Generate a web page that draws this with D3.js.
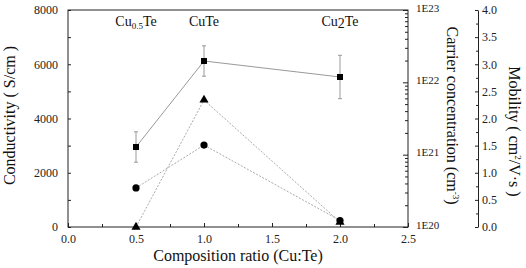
<!DOCTYPE html>
<html>
<head>
<meta charset="utf-8">
<script src="https://cdn.jsdelivr.net/npm/d3@7"></script>
<style>
  body { margin: 0; background: #fff; }
  .axis path, .axis line { stroke: #222; }
  .axis text { fill: #222; }
</style>
</head>
<body>
<svg width="526" height="268" font-family="Liberation Serif"></svg>
<script>
const ratio = [0.5, 1.0, 2.0];
const conductivity = [2950, 6120, 5530];
const condErr = [560, 560, 800];
const carrier = [1e20, 5.7e21, 1.17e20];
const mobility = [0.72, 1.51, 0.12];
const phases = [
  { x: 0.5, main: "Cu", sub: "0.5", tail: "Te" },
  { x: 1.0, main: "CuTe", sub: "", tail: "" },
  { x: 2.0, main: "Cu", sub: "2", tail: "Te", big: true }
];

const FONT = "Liberation Serif";
const svg = d3.select("svg"),
      margin = { top: 10, right: 118, bottom: 41, left: 68 },
      width = +svg.attr("width") - margin.left - margin.right,
      height = +svg.attr("height") - margin.top - margin.bottom;

const g = svg.append("g").attr("transform", `translate(${margin.left},${margin.top})`);

const x = d3.scaleLinear().domain([0, 2.5]).range([0, width]);
const yC = d3.scaleLinear().domain([0, 8000]).range([height, 0]);
const yN = d3.scaleLog().domain([1e20, 1e23]).range([height, 0]);
const yM = d3.scaleLinear().domain([0, 4]).range([height, 0]);

// frame
g.append("rect").attr("width", width).attr("height", height)
  .attr("fill", "none").attr("stroke", "#222");

// x axis
g.append("g").attr("class", "axis").attr("transform", `translate(0,${height})`)
  .call(d3.axisBottom(x).tickValues(d3.range(0, 2.51, 0.25)).tickSize(-4).tickPadding(7)
    .tickFormat(d => (Math.round(d * 100) % 50 === 0) ? d3.format(".1f")(d) : ""))
  .call(a => a.selectAll(".tick line").attr("y2", (d) => (Math.round(d * 100) % 50 === 0) ? -4 : -3))
  .call(a => a.select(".domain").remove())
  .attr("font-family", FONT).attr("font-size", 12);

// left axis
g.append("g").attr("class", "axis")
  .call(d3.axisLeft(yC).tickValues(d3.range(0, 8001, 1000)).tickSize(-3).tickPadding(10)
    .tickFormat(d => d % 2000 === 0 ? d : ""))
  .call(a => a.select(".domain").remove())
  .attr("font-family", FONT).attr("font-size", 12);

// right log axis
const logTicks = [];
for (let e = 20; e < 23; e++) for (let m = 1; m < 10; m++) logTicks.push(m * Math.pow(10, e));
logTicks.push(1e23);
const isDecade = d => { const e = Math.log10(d); return Math.abs(e - Math.round(e)) < 1e-9; };
g.append("g").attr("class", "axis").attr("transform", `translate(${width},0)`)
  .call(d3.axisRight(yN).tickValues(logTicks).tickSize(-3).tickPadding(8)
    .tickFormat(d => isDecade(d) ? "1E" + Math.round(Math.log10(d)) : ""))
  .call(a => a.selectAll(".tick line").attr("x2", d => isDecade(d) ? -5 : -3))
  .call(a => a.selectAll(".tick text").attr("dy", "0.1em"))
  .call(a => a.select(".domain").remove())
  .attr("font-family", FONT).attr("font-size", 11);

// mobility axis
const isHalf = d => Math.abs(d * 2 - Math.round(d * 2)) < 1e-9;
g.append("g").attr("class", "axis").attr("transform", `translate(${width + 70},0)`)
  .call(d3.axisRight(yM).tickValues(d3.range(0, 4.01, 0.25)).tickSize(-3).tickPadding(4).tickSizeOuter(0)
    .tickFormat(d => isHalf(d) ? d3.format(".1f")(d) : ""))
  .call(a => a.selectAll(".tick line").attr("x2", d => isHalf(d) ? -3 : -2))
  .attr("font-family", FONT).attr("font-size", 12);

// lines
const pts = (vals, sc) => ratio.map((r, i) => [x(r), sc(vals[i])]);
const line = d3.line();
g.append("path").attr("d", line(pts(conductivity, yC)))
  .attr("fill", "none").attr("stroke", "#999").attr("stroke-width", 1);
g.append("path").attr("d", line(pts(carrier, yN)))
  .attr("fill", "none").attr("stroke", "#aaa").attr("stroke-width", 1).attr("stroke-dasharray", "2,1.5");
g.append("path").attr("d", line(pts(mobility, yM)))
  .attr("fill", "none").attr("stroke", "#aaa").attr("stroke-width", 1).attr("stroke-dasharray", "2,1.5");

// error bars
ratio.forEach((r, i) => {
  const cx = x(r), t = yC(conductivity[i] + condErr[i]), b = yC(conductivity[i] - condErr[i]);
  const eb = g.append("g").attr("stroke", "#999").attr("stroke-width", 1);
  eb.append("line").attr("x1", cx).attr("x2", cx).attr("y1", t).attr("y2", b);
  eb.append("line").attr("x1", cx - 2).attr("x2", cx + 2).attr("y1", t).attr("y2", t);
  eb.append("line").attr("x1", cx - 2).attr("x2", cx + 2).attr("y1", b).attr("y2", b);
});

// markers
g.selectAll(".tri").data(ratio).enter().append("path")
  .attr("transform", (d, i) => `translate(${x(d)},${yN(carrier[i])})`)
  .attr("d", d3.symbol(d3.symbolTriangle, 36)).attr("fill", "#000");
g.selectAll(".dot").data(ratio).enter().append("circle")
  .attr("cx", d => x(d)).attr("cy", (d, i) => yM(mobility[i])).attr("r", 3.6).attr("fill", "#000");
g.selectAll(".sq").data(ratio).enter().append("rect")
  .attr("x", d => x(d) - 3).attr("y", (d, i) => yC(conductivity[i]) - 3)
  .attr("width", 6).attr("height", 6).attr("fill", "#000");

// phase labels
phases.forEach(p => {
  const t = g.append("text").attr("x", x(p.x)).attr("y", 16).attr("text-anchor", "middle")
    .attr("font-family", FONT).attr("font-size", 14).attr("fill", "#111");
  t.append("tspan").text(p.main);
  if (p.sub) {
    t.append("tspan").text(p.sub).attr("dy", p.big ? 2 : 3).attr("font-size", p.big ? 14 : 9);
    t.append("tspan").text(p.tail).attr("dy", p.big ? -2 : -3);
  }
});

// axis titles
svg.append("text").attr("x", margin.left + width / 2).attr("y", 261)
  .attr("text-anchor", "middle").attr("font-family", FONT).attr("font-size", 16).attr("fill", "#111")
  .text("Composition ratio (Cu:Te)");

svg.append("text").attr("transform", `translate(15,${margin.top + height / 2 - 3}) rotate(-90)`)
  .attr("text-anchor", "middle").attr("font-family", FONT).attr("font-size", 16).attr("fill", "#111")
  .text("Conductivity ( S/cm )");

const cc = svg.append("text").attr("transform", `translate(447,${margin.top + height / 2 - 3}) rotate(90)`)
  .attr("text-anchor", "middle").attr("font-family", FONT).attr("font-size", 16).attr("fill", "#111");
cc.append("tspan").text("Carrier concentration (cm");
cc.append("tspan").text("-3").attr("dy", -6).attr("font-size", 9);
cc.append("tspan").text(")").attr("dy", 6);

const mo = svg.append("text").attr("transform", `translate(509,${margin.top + height / 2 + 13}) rotate(90)`)
  .attr("text-anchor", "middle").attr("font-family", FONT).attr("font-size", 16).attr("fill", "#111");
mo.append("tspan").text("Mobility ( cm");
mo.append("tspan").text("2").attr("dy", -6).attr("font-size", 9);
mo.append("tspan").text("/V·s )").attr("dy", 6);
</script>
</body>
</html>
